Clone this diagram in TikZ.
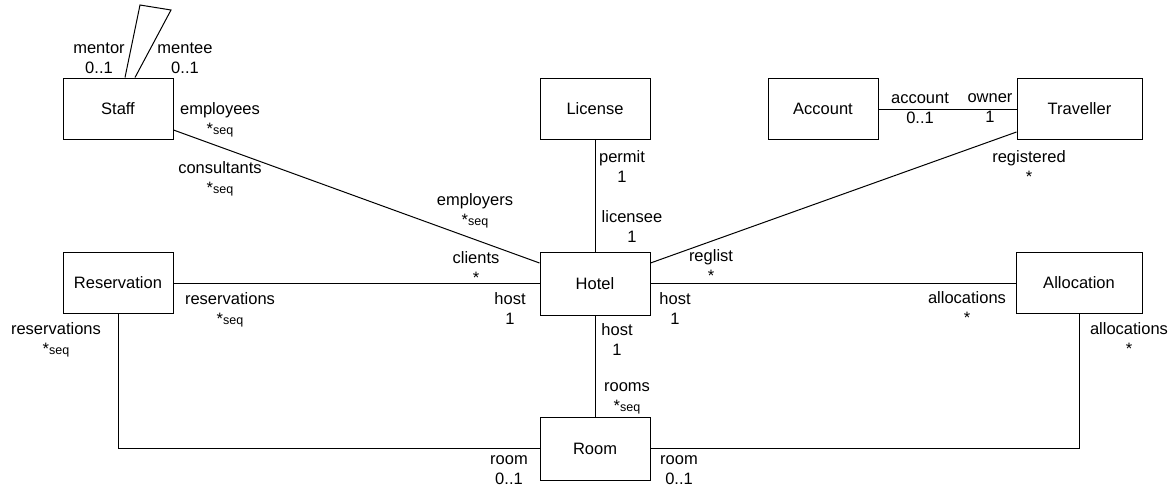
\documentclass[tikz,border=0pt]{standalone}
\usepackage{fontspec}
\setmainfont{Liberation Sans}
\usetikzlibrary{calc}
\newcommand{\sq}{*{\fontsize{12.5}{12.5}\selectfont seq}}
\begin{document}
\begin{tikzpicture}[x=1pt,y=-1pt,
  cls/.style={draw,line width=1pt,minimum width=110pt,minimum height=61pt,inner sep=0pt,font=\fontsize{16.5}{18}\selectfont},
  assoc/.style={line width=1pt},
  lbl/.style={font=\fontsize{16.5}{20}\selectfont,inner sep=0pt,align=center}]
\useasboundingbox (0,0) rectangle (1174,488);
% classes
\node[cls] (staff) at (118,108.5) {Staff};
\node[cls] (license) at (595,108.5) {License};
\node[cls] (account) at (823,109) {Account};
\node[cls,minimum width=125pt] (traveller) at (1079.5,109) {Traveller};
\node[cls,minimum height=63pt] (hotel) at (595,283.5) {Hotel};
\node[cls] (reservation) at (118,283) {Reservation};
\node[cls,minimum width=126pt] (allocation) at (1079,283) {Allocation};
\node[cls,minimum height=63pt] (room) at (595,448.5) {Room};
% self loop
\coordinate (lp1) at (140,5);
\coordinate (lp2) at (171,10);
\draw[assoc] ([xshift=7pt]staff.north) -- (lp1) -- (lp2) -- ([xshift=17pt]staff.north);
% associations
\draw[assoc] ([yshift=-21.5pt]staff.east) -- ([yshift=20.5pt]hotel.west);
\draw[assoc] (license.south) -- (hotel.north);
\draw[assoc] (account.east) -- (traveller.west);
\draw[assoc] ([yshift=-23pt]traveller.west) -- ([yshift=20.5pt]hotel.east);
\draw[assoc] (reservation.east) -- (reservation.east -| hotel.west);
\draw[assoc] (allocation.west) -- (allocation.west -| hotel.east);
\draw[assoc] (hotel.south) -- (room.north);
\coordinate (rc) at (reservation.south |- room.west);
\draw[assoc] (reservation.south) -- (rc) -- (room.west);
\coordinate (ac) at (allocation.south |- room.east);
\draw[assoc] (allocation.south) -- (ac) -- (room.east);
% labels
\node[lbl] (l1) at (99,58) {mentor\\0..1};
\node[lbl] (l2) at (185,58) {mentee\\0..1};
\node[lbl] (l3) at (220,120) {employees\\\sq};
\node[lbl] (l4) at (220,179) {consultants\\\sq};
\node[lbl] (l5) at (475,211) {employers\\\sq};
\node[lbl] (l6) at (476,268) {clients\\*};
\node[lbl] (l7) at (510,309) {host\\1};
\node[lbl] (l8) at (632,227) {licensee\\1};
\node[lbl] (l9) at (622,167) {permit\\1};
\node[lbl] (l10) at (711,266) {reglist\\*};
\node[lbl] (l11) at (675,309) {host\\1};
\node[lbl] (l12) at (617,340) {host\\1};
\node[lbl] (l13) at (627,398) {rooms\\\sq};
\node[lbl] (l14) at (509,470) {room\\0..1};
\node[lbl] (l15) at (679,470) {room\\0..1};
\node[lbl] (l16) at (230,310) {reservations\\\sq};
\node[lbl] (l17) at (56,340) {reservations\\\sq};
\node[lbl] (l18) at (967,308) {allocations\\*};
\node[lbl] (l19) at (1129,339) {allocations\\*};
\node[lbl] (l20) at (920,108.5) {account\\0..1};
\node[lbl] (l21) at (990,108.5) {owner\\1};
\node[lbl] (l22) at (1029,167) {registered\\*};
\end{tikzpicture}
\end{document}
